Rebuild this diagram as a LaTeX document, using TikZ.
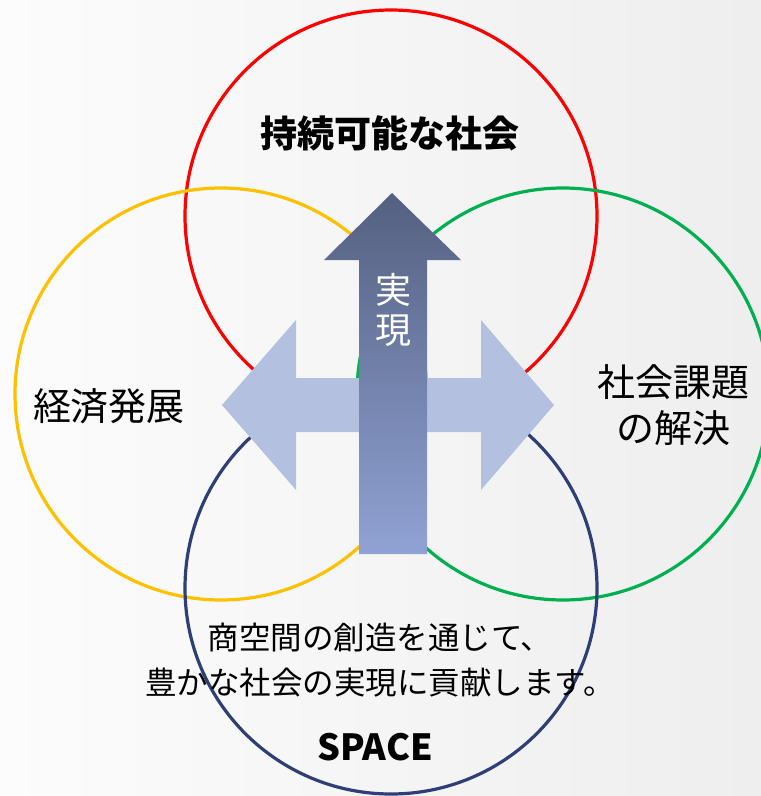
\documentclass[tikz,border=0pt]{standalone}
\usepackage{fontspec}
\newfontfamily\jp{Noto Sans CJK JP}
\usetikzlibrary{shadings}
\definecolor{cred}{HTML}{FF0000}
\definecolor{cyel}{HTML}{FFC000}
\definecolor{cgrn}{HTML}{00B050}
\definecolor{cnav}{HTML}{2F3F75}
\definecolor{harrow}{HTML}{B4C0E0}
\definecolor{vtop}{HTML}{546080}
\definecolor{vbot}{HTML}{90A2D4}
\definecolor{bgA}{HTML}{FCFCFC}
\definecolor{bgB}{HTML}{EEEEEE}
\tikzset{
  ring/.style={circle, draw=#1, line width=3.2pt, minimum size=412pt, inner sep=0pt},
  lbl/.style={font=\jp\fontsize{38}{46}\selectfont, text=black, inner sep=0pt, align=center},
  small/.style={font=\jp\fontsize{31.5}{45}\selectfont, text=black, inner sep=0pt, align=center},
  bold/.style={font=\jp\bfseries\fontsize{37}{40}\selectfont, text=black, inner sep=0pt},
}
\begin{document}
\begin{tikzpicture}[x=1pt,y=-1pt]
\useasboundingbox (0,0) rectangle (761,796);
% background
\shade[shading=axis, shading angle=135, left color=bgA, right color=bgB] (0,0) rectangle (761,796);
% circles
\node[ring=cred] (red) at (391,216) {};
\node[ring=cyel] (yel) at (221,394) {};
\node[ring=cgrn] (grn) at (563,394) {};
\node[ring=cnav] (nav) at (391,588) {};
% horizontal double arrow
\fill[harrow] (222,405) -- (296,320) -- (296,378) -- (481,378) -- (481,320) -- (554,405)
  -- (481,490) -- (481,432) -- (296,432) -- (296,490) -- cycle;
% vertical arrow
\shade[top color=vtop, bottom color=vbot] (392,193) -- (461,260) -- (427,260) -- (427,554)
  -- (359,554) -- (359,260) -- (324,260) -- cycle;
% texts
\node[bold] (t1) at (390,133) {持続可能な社会};
\node[lbl] (t2) at (109,406) {経済発展};
\node[lbl] (t3) at (673,405) {社会課題\\の解決};
\node[lbl, text=white, font=\jp\fontsize{36}{40}\selectfont] (t4) at (393,310) {実\\現};
\node[small] (t5) at (380,660) {商空間の創造を通じて、\\豊かな社会の実現に貢献します。};
\node[bold, font=\jp\bfseries\fontsize{36}{40}\selectfont] (t6) at (375,747) {SPACE};
\end{tikzpicture}
\end{document}
